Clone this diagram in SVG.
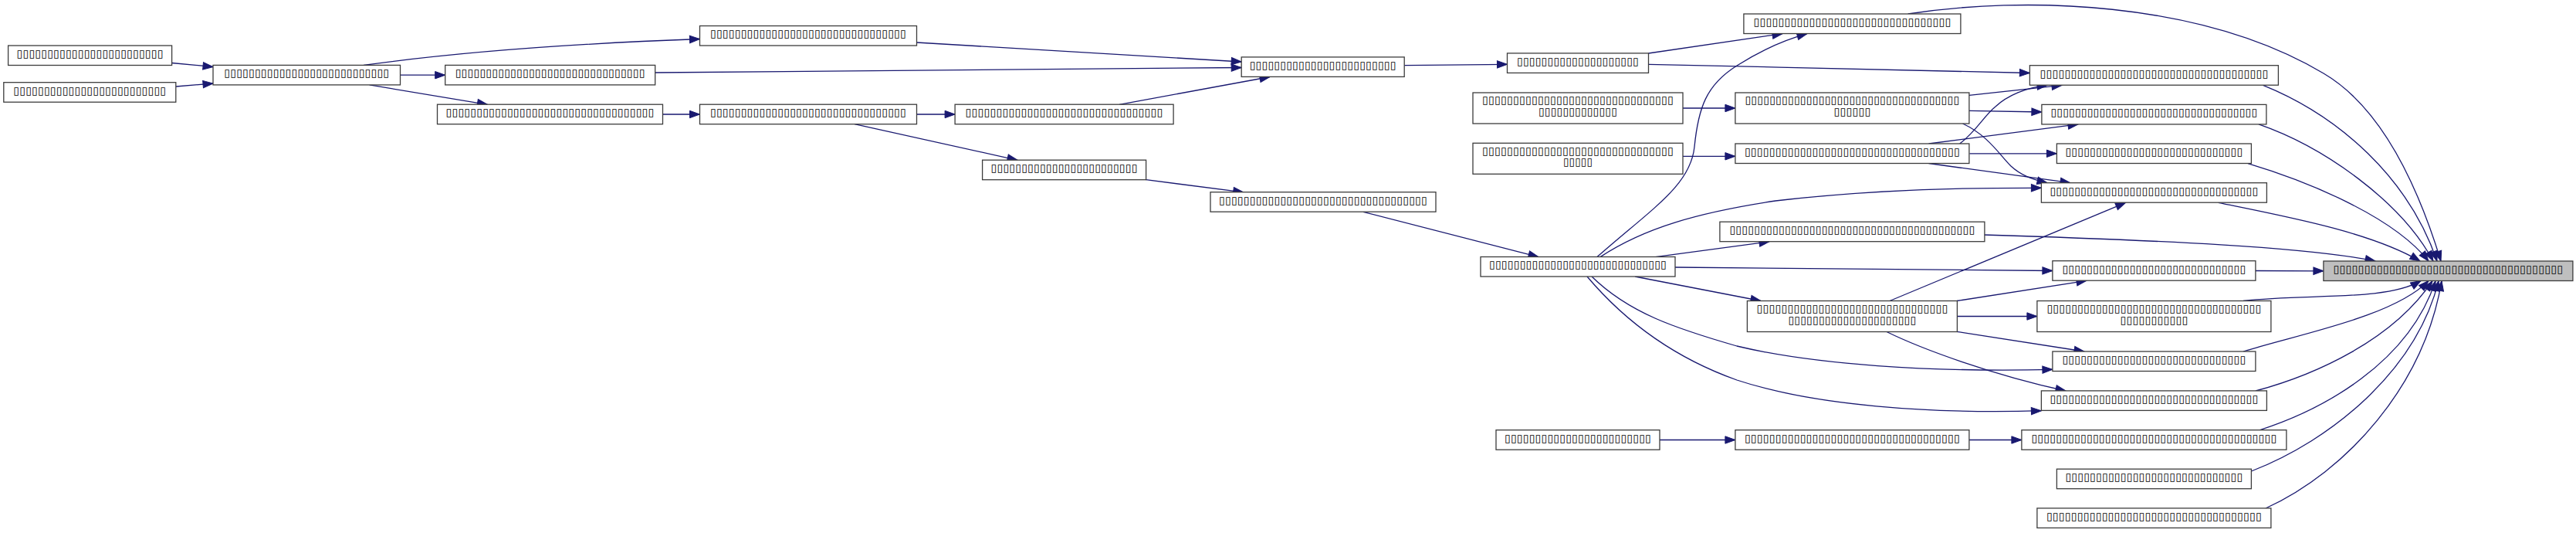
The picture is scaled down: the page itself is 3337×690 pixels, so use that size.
<svg xmlns="http://www.w3.org/2000/svg" width="3337" height="690" viewBox="0 0 3337 690">
<defs>
<style>
.n rect{fill:#fff;stroke:#3c3c3c;stroke-width:1.3}
#Z rect{fill:#bfbfbf}
text{font-family:"DejaVu Sans","Liberation Sans",sans-serif;font-size:13.33px;text-anchor:middle;fill:#000}
.e path{fill:none;stroke:#191970;stroke-width:1.3;marker-end:url(#ah)}
</style>
<marker id="ah" markerUnits="userSpaceOnUse" markerWidth="16" markerHeight="12" refX="14" refY="6" orient="auto"><path d="M1,1.3 L14,6 L1,10.7 z" fill="#191970" stroke="#191970" stroke-width="1"/></marker>
</defs>
<rect width="3337" height="690" fill="#fff"/>
<g class="e" id="edges">
<path d="M222.6,81.5 L276,86.5"/>
<path d="M227.8,112 L276,108"/>
<path d="M471,84.5 C560,72 700,58 906.5,50.5"/>
<path d="M518.6,97.2 L576.7,97.2"/>
<path d="M478.6,109.9 L631.4,135.3"/>
<path d="M858.5,148 L906.5,148"/>
<path d="M1187.5,55 L1608.2,80"/>
<path d="M848.7,94 L1608.2,87.5"/>
<path d="M1187.5,148 L1237.1,148"/>
<path d="M1450,135.3 L1645,99.5"/>
<path d="M1107,160.7 L1318,207.3"/>
<path d="M1484.6,232.7 L1610.7,248.8"/>
<path d="M1766,274.3 L1993,332.6"/>
<path d="M1819.2,84.7 L1952.5,83.3"/>
<path d="M2135.5,69 L2309,43.6"/>
<path d="M2135.5,83.3 C2300,87 2480,91 2629.4,94.5"/>
<path d="M2180,140 L2247.9,140"/>
<path d="M2180,202.3 L2247.9,202.3"/>
<path d="M2069,332.6 C2140,270 2190,240 2195,190 C2200,140 2210,110 2250,85 C2280,66 2310,52 2341,43.6"/>
<path d="M2144.6,332.6 L2292,312.8"/>
<path d="M2170,346 L2658.9,350.5"/>
<path d="M2118,358 L2281,389.5"/>
<path d="M2062,358 C2110,405 2170,425 2250,448 C2350,472 2500,482 2658.9,478.3"/>
<path d="M2056,358 C2100,410 2160,460 2250,492 C2350,525 2500,536 2644.4,531.7"/>
<path d="M2073,332.6 C2130,295 2200,275 2300,260 C2420,246 2530,243 2644.4,243.3"/>
<path d="M2471.7,18 C2620,-5 2850,0 3010,95 C3090,142 3135,250 3162,338"/>
<path d="M2569.4,304 C2800,311 2990,320 3077,338"/>
<path d="M2535.4,409.5 L2638.9,409.5"/>
<path d="M2535,389.5 L2703,363.3"/>
<path d="M2535,429.3 L2700,455"/>
<path d="M2444,429.5 C2490,452 2580,485 2676,506"/>
<path d="M2551,123.3 L2671,110.3"/>
<path d="M2551,143.3 L2644.9,145"/>
<path d="M2542.5,160 C2575,175 2590,200 2605,215 C2618,227 2632,232 2652,236.7"/>
<path d="M2538.7,186 C2560,170 2570,150 2585,138 C2600,124 2625,113 2652,110.3"/>
<path d="M2498.5,186 L2692,160.9"/>
<path d="M2551.4,198.8 L2664.4,198.8"/>
<path d="M2498.5,211.5 L2682,236.7"/>
<path d="M2448,389.5 L2753.6,262.4"/>
<path d="M2150,569.5 L2247.9,569.5"/>
<path d="M2551,569.5 L2618.9,569.5"/>
<path d="M2931.6,110.3 C3030,150 3120,230 3157,338"/>
<path d="M2926,160.9 C3010,190 3110,260 3152,338"/>
<path d="M2912,211.6 C2990,235 3100,280 3146,338"/>
<path d="M2873.7,262.3 C2960,280 3070,300 3135,338"/>
<path d="M2921.9,350.5 L3009.9,350.8"/>
<path d="M2906,389.5 C2990,380 3090,390 3136,363.6"/>
<path d="M2906,455 C2980,432 3100,410 3146,363.6"/>
<path d="M2922,506 C3000,485 3100,440 3151,363.6"/>
<path d="M2927,556.8 C3010,530 3120,470 3155,363.6"/>
<path d="M2916.4,610 C3020,570 3130,480 3159,363.6"/>
<path d="M2935,658 C3040,610 3140,500 3163,363.6"/>
</g>
<g id="L1" class="n"><rect x="10.6" y="59" width="212" height="25.5"/><text x="116.6" y="73.8" textLength="190" lengthAdjust="spacingAndGlyphs">▯▯▯▯▯▯▯▯▯▯▯▯▯▯▯▯▯▯▯▯▯▯▯▯</text></g>
<g id="L2" class="n"><rect x="4.8" y="106.7" width="223" height="25.5"/><text x="116.3" y="121.5" textLength="198" lengthAdjust="spacingAndGlyphs">▯▯▯▯▯▯▯▯▯▯▯▯▯▯▯▯▯▯▯▯▯▯▯▯▯</text></g>
<g id="B" class="n"><rect x="276" y="84.4" width="242.5" height="25.5"/><text x="397.3" y="99.2" textLength="214" lengthAdjust="spacingAndGlyphs">▯▯▯▯▯▯▯▯▯▯▯▯▯▯▯▯▯▯▯▯▯▯▯▯▯▯▯</text></g>
<g id="C1" class="n"><rect x="906.5" y="33.5" width="281" height="25.5"/><text x="1047" y="48.3" textLength="254" lengthAdjust="spacingAndGlyphs">▯▯▯▯▯▯▯▯▯▯▯▯▯▯▯▯▯▯▯▯▯▯▯▯▯▯▯▯▯▯▯▯</text></g>
<g id="C2" class="n"><rect x="576.7" y="84.4" width="272" height="25.5"/><text x="712.7" y="99.2" textLength="246" lengthAdjust="spacingAndGlyphs">▯▯▯▯▯▯▯▯▯▯▯▯▯▯▯▯▯▯▯▯▯▯▯▯▯▯▯▯▯▯▯</text></g>
<g id="C3" class="n"><rect x="566.5" y="135.2" width="292" height="25.5"/><text x="712.5" y="150" textLength="270" lengthAdjust="spacingAndGlyphs">▯▯▯▯▯▯▯▯▯▯▯▯▯▯▯▯▯▯▯▯▯▯▯▯▯▯▯▯▯▯▯▯▯▯</text></g>
<g id="D1" class="n"><rect x="906.5" y="135.2" width="281" height="25.5"/><text x="1047" y="150" textLength="254" lengthAdjust="spacingAndGlyphs">▯▯▯▯▯▯▯▯▯▯▯▯▯▯▯▯▯▯▯▯▯▯▯▯▯▯▯▯▯▯▯▯</text></g>
<g id="D2" class="n"><rect x="1237.1" y="135.2" width="283" height="25.5"/><text x="1378.6" y="150" textLength="256" lengthAdjust="spacingAndGlyphs">▯▯▯▯▯▯▯▯▯▯▯▯▯▯▯▯▯▯▯▯▯▯▯▯▯▯▯▯▯▯▯▯</text></g>
<g id="E" class="n"><rect x="1608.2" y="73.9" width="211" height="25.5"/><text x="1713.7" y="88.7" textLength="190" lengthAdjust="spacingAndGlyphs">▯▯▯▯▯▯▯▯▯▯▯▯▯▯▯▯▯▯▯▯▯▯▯▯</text></g>
<g id="F1" class="n"><rect x="1272.6" y="207.2" width="212" height="25.5"/><text x="1378.6" y="222" textLength="190" lengthAdjust="spacingAndGlyphs">▯▯▯▯▯▯▯▯▯▯▯▯▯▯▯▯▯▯▯▯▯▯▯▯</text></g>
<g id="F2" class="n"><rect x="1568" y="248.7" width="292" height="25.5"/><text x="1714" y="263.5" textLength="270" lengthAdjust="spacingAndGlyphs">▯▯▯▯▯▯▯▯▯▯▯▯▯▯▯▯▯▯▯▯▯▯▯▯▯▯▯▯▯▯▯▯▯▯</text></g>
<g id="G" class="n"><rect x="1952.5" y="68.9" width="183" height="25.5"/><text x="2044" y="83.7" textLength="158" lengthAdjust="spacingAndGlyphs">▯▯▯▯▯▯▯▯▯▯▯▯▯▯▯▯▯▯▯▯</text></g>
<g id="H1" class="n"><rect x="1908" y="120" width="272" height="40"/><text x="2044" y="134.3" textLength="248" lengthAdjust="spacingAndGlyphs">▯▯▯▯▯▯▯▯▯▯▯▯▯▯▯▯▯▯▯▯▯▯▯▯▯▯▯▯▯▯▯</text><text x="2044" y="149" textLength="102" lengthAdjust="spacingAndGlyphs">▯▯▯▯▯▯▯▯▯▯▯▯▯</text></g>
<g id="H2" class="n"><rect x="1908" y="185.3" width="272" height="40"/><text x="2044" y="199.6" textLength="248" lengthAdjust="spacingAndGlyphs">▯▯▯▯▯▯▯▯▯▯▯▯▯▯▯▯▯▯▯▯▯▯▯▯▯▯▯▯▯▯▯</text><text x="2044" y="214.3" textLength="38" lengthAdjust="spacingAndGlyphs">▯▯▯▯▯</text></g>
<g id="I" class="n"><rect x="1918" y="332.5" width="252" height="25.5"/><text x="2044" y="347.3" textLength="230" lengthAdjust="spacingAndGlyphs">▯▯▯▯▯▯▯▯▯▯▯▯▯▯▯▯▯▯▯▯▯▯▯▯▯▯▯▯▯</text></g>
<g id="J" class="n"><rect x="1938" y="556.7" width="212" height="25.5"/><text x="2044" y="571.5" textLength="190" lengthAdjust="spacingAndGlyphs">▯▯▯▯▯▯▯▯▯▯▯▯▯▯▯▯▯▯▯▯▯▯▯▯</text></g>
<g id="K1" class="n"><rect x="2258.9" y="18" width="281" height="25.5"/><text x="2399.4" y="32.8" textLength="256" lengthAdjust="spacingAndGlyphs">▯▯▯▯▯▯▯▯▯▯▯▯▯▯▯▯▯▯▯▯▯▯▯▯▯▯▯▯▯▯▯▯</text></g>
<g id="K2" class="n"><rect x="2247.9" y="120" width="303" height="40"/><text x="2399.4" y="134.3" textLength="278" lengthAdjust="spacingAndGlyphs">▯▯▯▯▯▯▯▯▯▯▯▯▯▯▯▯▯▯▯▯▯▯▯▯▯▯▯▯▯▯▯▯▯▯▯</text><text x="2399.4" y="149" textLength="48" lengthAdjust="spacingAndGlyphs">▯▯▯▯▯▯</text></g>
<g id="K3" class="n"><rect x="2247.9" y="186" width="303" height="25.5"/><text x="2399.4" y="200.8" textLength="279" lengthAdjust="spacingAndGlyphs">▯▯▯▯▯▯▯▯▯▯▯▯▯▯▯▯▯▯▯▯▯▯▯▯▯▯▯▯▯▯▯▯▯▯▯</text></g>
<g id="K4" class="n"><rect x="2227.9" y="287.2" width="343" height="25.5"/><text x="2399.4" y="302" textLength="318" lengthAdjust="spacingAndGlyphs">▯▯▯▯▯▯▯▯▯▯▯▯▯▯▯▯▯▯▯▯▯▯▯▯▯▯▯▯▯▯▯▯▯▯▯▯▯▯▯▯</text></g>
<g id="K5" class="n"><rect x="2263.4" y="389.5" width="272" height="40"/><text x="2399.4" y="403.8" textLength="248" lengthAdjust="spacingAndGlyphs">▯▯▯▯▯▯▯▯▯▯▯▯▯▯▯▯▯▯▯▯▯▯▯▯▯▯▯▯▯▯▯</text><text x="2399.4" y="418.5" textLength="166" lengthAdjust="spacingAndGlyphs">▯▯▯▯▯▯▯▯▯▯▯▯▯▯▯▯▯▯▯▯▯</text></g>
<g id="K6" class="n"><rect x="2247.9" y="556.7" width="303" height="25.5"/><text x="2399.4" y="571.5" textLength="279" lengthAdjust="spacingAndGlyphs">▯▯▯▯▯▯▯▯▯▯▯▯▯▯▯▯▯▯▯▯▯▯▯▯▯▯▯▯▯▯▯▯▯▯▯</text></g>
<g id="M1" class="n"><rect x="2629.4" y="84.7" width="322" height="25.5"/><text x="2790.4" y="99.5" textLength="296" lengthAdjust="spacingAndGlyphs">▯▯▯▯▯▯▯▯▯▯▯▯▯▯▯▯▯▯▯▯▯▯▯▯▯▯▯▯▯▯▯▯▯▯▯▯▯</text></g>
<g id="M2" class="n"><rect x="2644.9" y="135.4" width="291" height="25.5"/><text x="2790.4" y="150.2" textLength="268" lengthAdjust="spacingAndGlyphs">▯▯▯▯▯▯▯▯▯▯▯▯▯▯▯▯▯▯▯▯▯▯▯▯▯▯▯▯▯▯▯▯▯▯</text></g>
<g id="M3" class="n"><rect x="2664.4" y="186" width="252" height="25.5"/><text x="2790.4" y="200.8" textLength="230" lengthAdjust="spacingAndGlyphs">▯▯▯▯▯▯▯▯▯▯▯▯▯▯▯▯▯▯▯▯▯▯▯▯▯▯▯▯▯</text></g>
<g id="M4" class="n"><rect x="2644.4" y="236.7" width="292" height="25.5"/><text x="2790.4" y="251.5" textLength="270" lengthAdjust="spacingAndGlyphs">▯▯▯▯▯▯▯▯▯▯▯▯▯▯▯▯▯▯▯▯▯▯▯▯▯▯▯▯▯▯▯▯▯▯</text></g>
<g id="M5" class="n"><rect x="2658.9" y="337.7" width="263" height="25.5"/><text x="2790.4" y="352.5" textLength="238" lengthAdjust="spacingAndGlyphs">▯▯▯▯▯▯▯▯▯▯▯▯▯▯▯▯▯▯▯▯▯▯▯▯▯▯▯▯▯▯</text></g>
<g id="M6" class="n"><rect x="2638.9" y="389.5" width="303" height="40"/><text x="2790.4" y="403.8" textLength="278" lengthAdjust="spacingAndGlyphs">▯▯▯▯▯▯▯▯▯▯▯▯▯▯▯▯▯▯▯▯▯▯▯▯▯▯▯▯▯▯▯▯▯▯▯</text><text x="2790.4" y="418.5" textLength="88" lengthAdjust="spacingAndGlyphs">▯▯▯▯▯▯▯▯▯▯▯</text></g>
<g id="M7" class="n"><rect x="2658.9" y="455" width="263" height="25.5"/><text x="2790.4" y="469.8" textLength="238" lengthAdjust="spacingAndGlyphs">▯▯▯▯▯▯▯▯▯▯▯▯▯▯▯▯▯▯▯▯▯▯▯▯▯▯▯▯▯▯</text></g>
<g id="M8" class="n"><rect x="2644.4" y="505.9" width="292" height="25.5"/><text x="2790.4" y="520.7" textLength="270" lengthAdjust="spacingAndGlyphs">▯▯▯▯▯▯▯▯▯▯▯▯▯▯▯▯▯▯▯▯▯▯▯▯▯▯▯▯▯▯▯▯▯▯</text></g>
<g id="M9" class="n"><rect x="2618.9" y="556.7" width="343" height="25.5"/><text x="2790.4" y="571.5" textLength="318" lengthAdjust="spacingAndGlyphs">▯▯▯▯▯▯▯▯▯▯▯▯▯▯▯▯▯▯▯▯▯▯▯▯▯▯▯▯▯▯▯▯▯▯▯▯▯▯▯▯</text></g>
<g id="M10" class="n"><rect x="2664.4" y="607.2" width="252" height="25.5"/><text x="2790.4" y="622" textLength="230" lengthAdjust="spacingAndGlyphs">▯▯▯▯▯▯▯▯▯▯▯▯▯▯▯▯▯▯▯▯▯▯▯▯▯▯▯▯▯</text></g>
<g id="M11" class="n"><rect x="2638.9" y="657.9" width="303" height="25.5"/><text x="2790.4" y="672.7" textLength="279" lengthAdjust="spacingAndGlyphs">▯▯▯▯▯▯▯▯▯▯▯▯▯▯▯▯▯▯▯▯▯▯▯▯▯▯▯▯▯▯▯▯▯▯▯</text></g>
<g id="Z" class="n"><rect x="3009.9" y="338" width="323" height="25.5"/><text x="3171.4" y="352.8" textLength="298" lengthAdjust="spacingAndGlyphs">▯▯▯▯▯▯▯▯▯▯▯▯▯▯▯▯▯▯▯▯▯▯▯▯▯▯▯▯▯▯▯▯▯▯▯▯▯</text></g>
</svg>
